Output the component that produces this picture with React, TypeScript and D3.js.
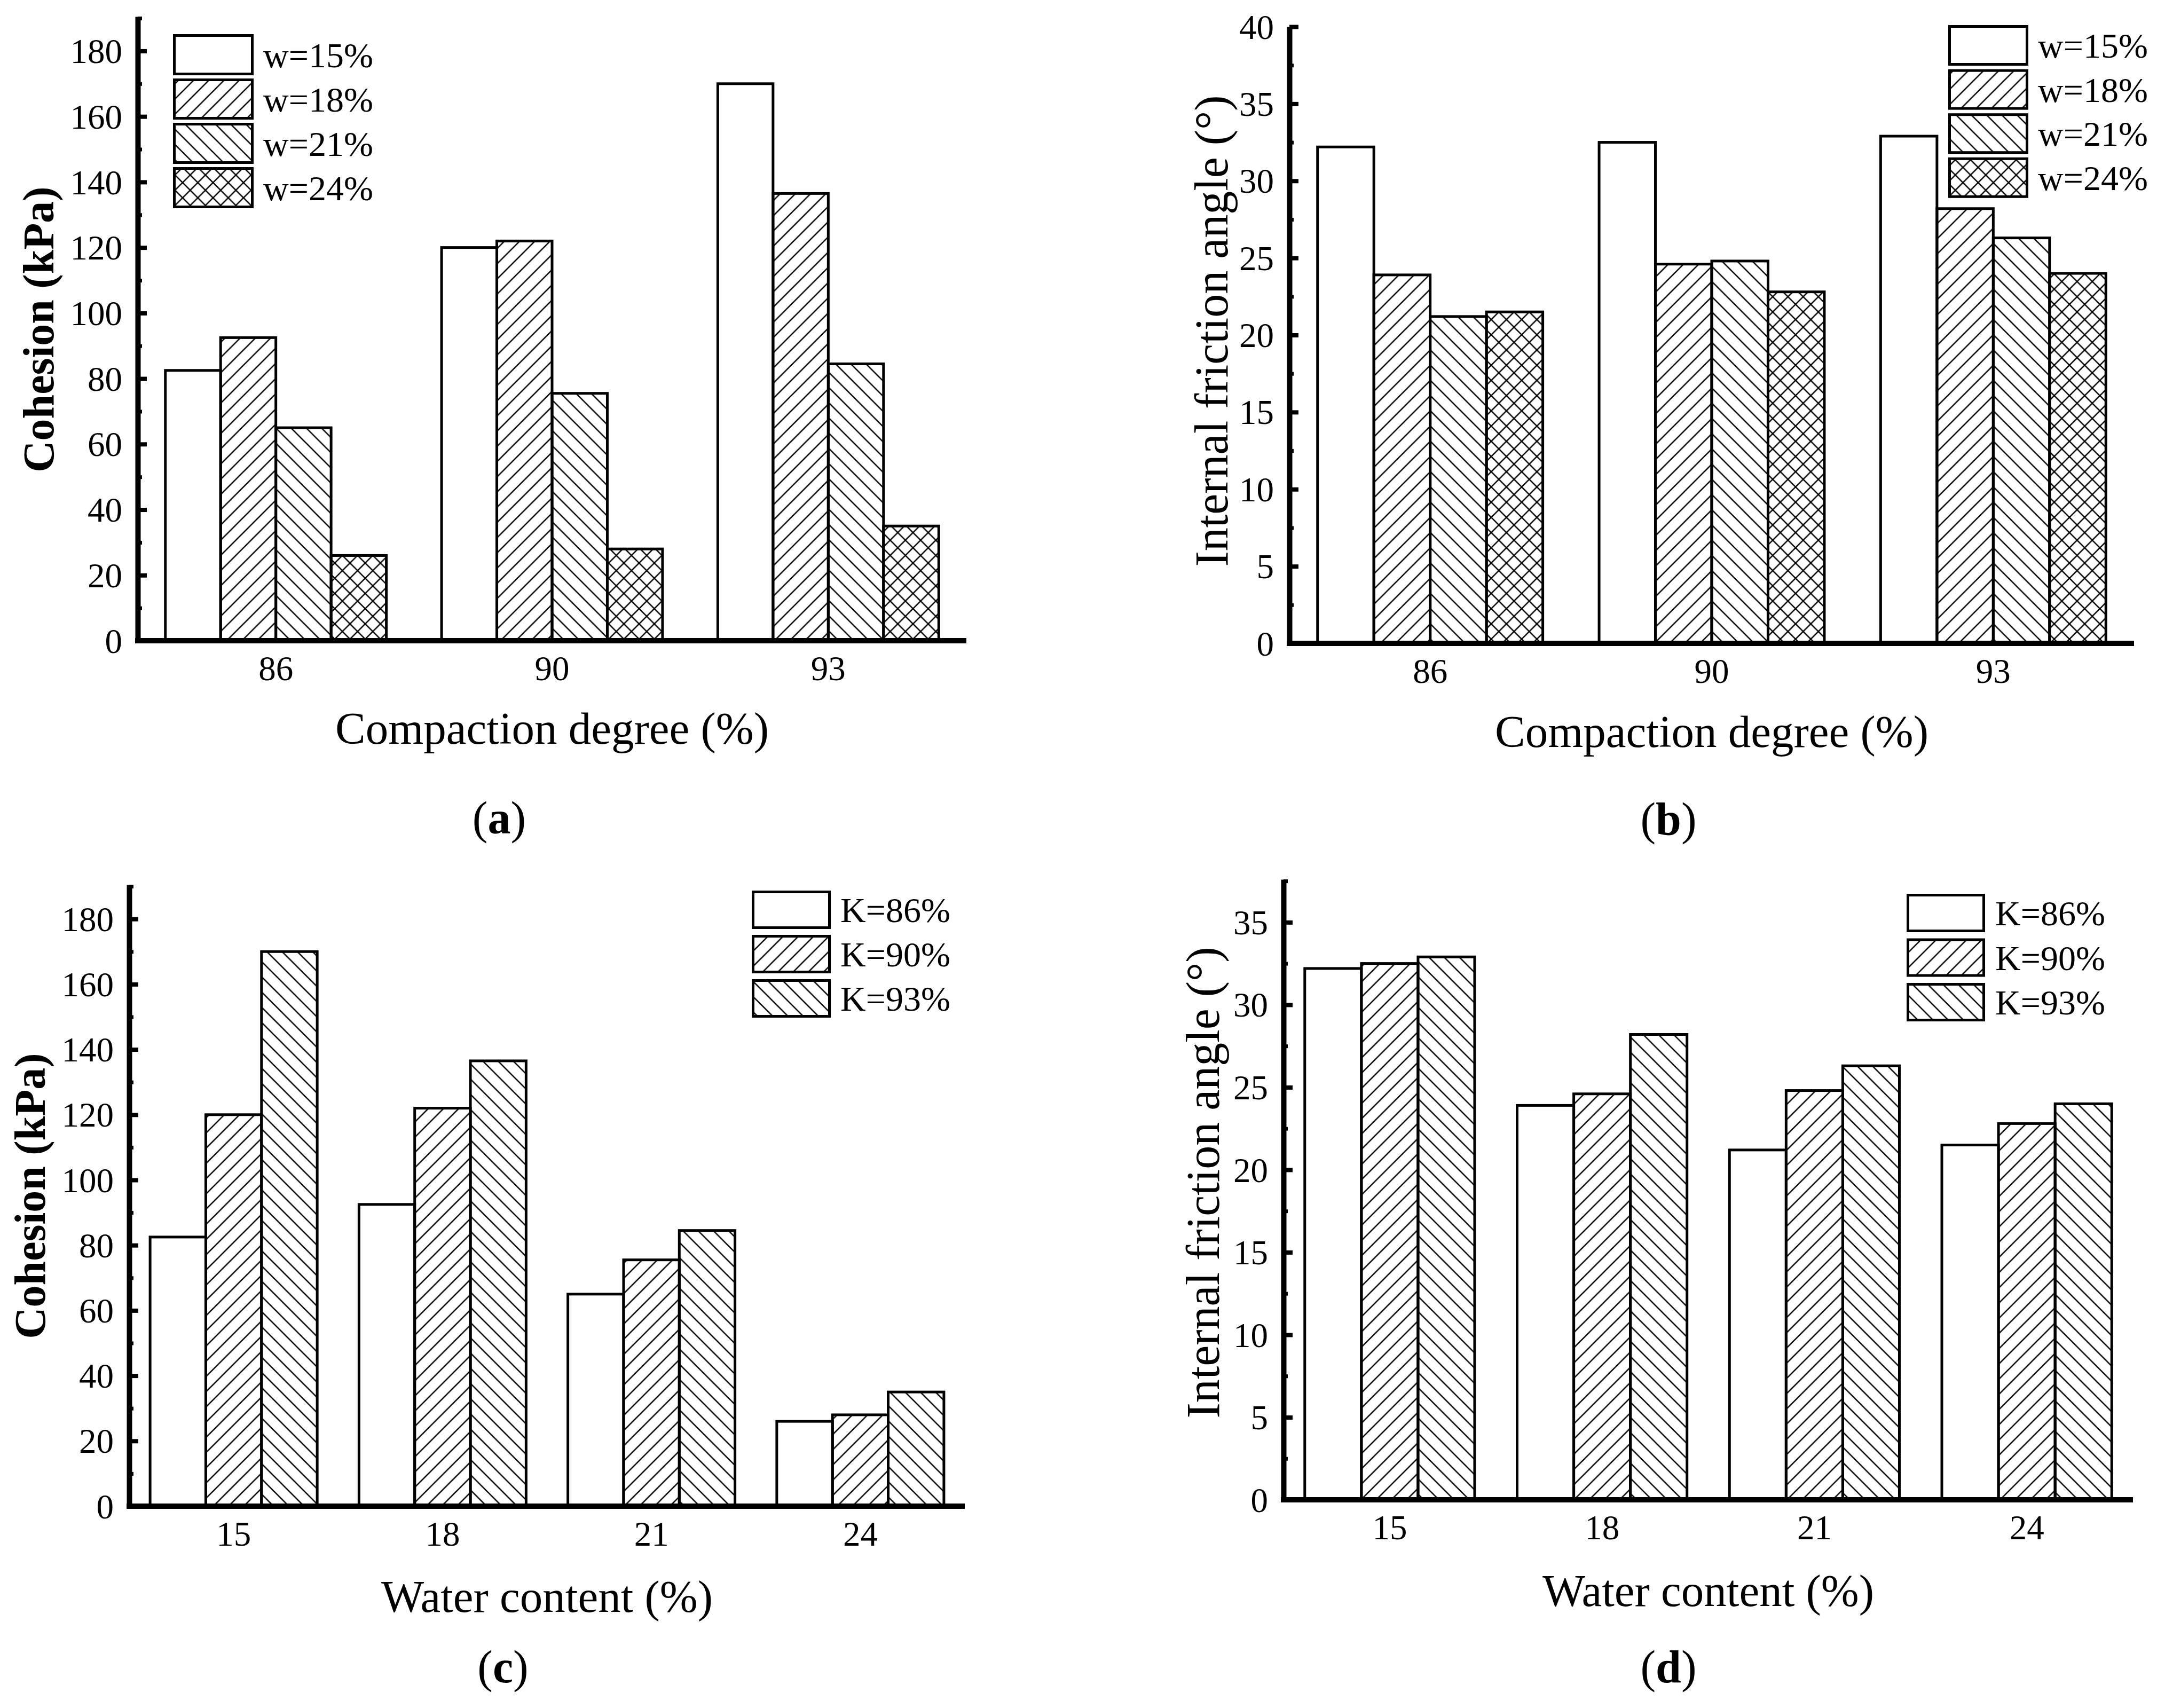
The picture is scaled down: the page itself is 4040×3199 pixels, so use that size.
import React, { useEffect, useRef } from 'react';
import * as d3 from 'd3';

// categories
const compactionDegrees = ['86', '90', '93'];
const waterContents = ['15', '18', '21', '24'];
const wLabels = ['w=15%', 'w=18%', 'w=21%', 'w=24%'];
const kLabels = ['K=86%', 'K=90%', 'K=93%'];

// cohesion (kPa) for each water content, indexed by compaction degree
const cohesionW15 = [82.5, 120, 170];
const cohesionW18 = [92.5, 122, 136.5];
const cohesionW21 = [65, 75.5, 84.5];
const cohesionW24 = [26, 28, 35];

// internal friction angle (deg) for each water content, indexed by compaction degree
const frictionW15 = [32.2, 32.5, 32.9];
const frictionW18 = [23.9, 24.6, 28.2];
const frictionW21 = [21.2, 24.8, 26.3];
const frictionW24 = [21.5, 22.8, 24.0];

// tick values
const cohesionTicks = [0, 20, 40, 60, 80, 100, 120, 140, 160, 180];
const cohesionMinorTicks = [10, 30, 50, 70, 90, 110, 130, 150, 170, 190];
const frictionTicksB = [0, 5, 10, 15, 20, 25, 30, 35, 40];
const frictionTicksD = [0, 5, 10, 15, 20, 25, 30, 35];
const frictionMinorTicks = [2.5, 7.5, 12.5, 17.5, 22.5, 27.5, 32.5, 37.5];

const FONT = '"Liberation Serif", "Times New Roman", serif';
const FILLS = ['#ffffff', 'url(#hatch-fwd)', 'url(#hatch-back)', 'url(#hatch-cross)'];

type Panel = {
  categories: string[];
  series: number[][];
  labels: string[];
  x0: number;
  x1: number;
  yZero: number;
  yTop: number;
  yMax: number;
  majorTicks: number[];
  minorTicks: number[];
  yTitle: string;
  yTitleBold: boolean;
  yTitleSize: number;
  yTitleX: number;
  yTitleY: number;
  xTitle: string;
  xTitleY: number;
  // legend box outer bounds (including stroke)
  legend: { x: number; y: number; w: number; h: number; step: number; textX: number };
  tag: string;
  tagX: number;
  tagY: number;
};

// transpose: series by water content -> series by compaction degree
const transpose = (rows: number[][]) => rows[0].map((_, j) => rows.map(r => r[j]));

const cohesionByW = [cohesionW15, cohesionW18, cohesionW21, cohesionW24];
const frictionByW = [frictionW15, frictionW18, frictionW21, frictionW24];

const panels: Panel[] = [
  {
    categories: compactionDegrees, series: cohesionByW, labels: wLabels,
    x0: 258, x1: 1810, yZero: 1200, yTop: 31, yMax: 190.5,
    majorTicks: cohesionTicks, minorTicks: cohesionMinorTicks,
    yTitle: 'Cohesion (kPa)', yTitleBold: true, yTitleSize: 82, yTitleX: 100, yTitleY: 617,
    xTitle: 'Compaction degree (%)', xTitleY: 1393,
    legend: { x: 324, y: 64, w: 151, h: 77, step: 83, textX: 493 },
    tag: 'a', tagX: 935, tagY: 1561,
  },
  {
    categories: compactionDegrees, series: frictionByW, labels: wLabels,
    x0: 2415, x1: 3997, yZero: 1205, yTop: 50, yMax: 40,
    majorTicks: frictionTicksB, minorTicks: frictionMinorTicks,
    yTitle: 'Internal friction angle (°)', yTitleBold: false, yTitleSize: 88, yTitleX: 2299, yTitleY: 620,
    xTitle: 'Compaction degree (%)', xTitleY: 1399,
    legend: { x: 3649, y: 47, w: 150, h: 76, step: 82.6, textX: 3817 },
    tag: 'b', tagX: 3125, tagY: 1563,
  },
  {
    categories: waterContents, series: transpose(cohesionByW), labels: kLabels,
    x0: 242, x1: 1807, yZero: 2821, yTop: 1657, yMax: 190.5,
    majorTicks: cohesionTicks, minorTicks: cohesionMinorTicks,
    yTitle: 'Cohesion (kPa)', yTitleBold: true, yTitleSize: 82, yTitleX: 84, yTitleY: 2240,
    xTitle: 'Water content (%)', xTitleY: 3019,
    legend: { x: 1408, y: 1668, w: 148, h: 72, step: 83, textX: 1574 },
    tag: 'c', tagX: 942, tagY: 3151,
  },
  {
    categories: waterContents, series: transpose(frictionByW), labels: kLabels,
    x0: 2404, x1: 3995, yZero: 2809, yTop: 1647, yMax: 37.6,
    majorTicks: frictionTicksD, minorTicks: frictionMinorTicks,
    yTitle: 'Internal friction angle (°)', yTitleBold: false, yTitleSize: 88, yTitleX: 2283, yTitleY: 2215,
    xTitle: 'Water content (%)', xTitleY: 3008,
    legend: { x: 3571, y: 1674, w: 147, h: 72, step: 83.5, textX: 3737 },
    tag: 'd', tagX: 3125, tagY: 3151,
  },
];

const BORDER = 5;

function drawPanel(root: d3.Selection<SVGGElement, unknown, null, undefined>, p: Panel) {
  const g = root.append('g');

  const x = d3.scaleBand<string>()
    .domain(p.categories)
    .range([p.x0, p.x1])
    .paddingInner(0.2)
    .paddingOuter(0.1);
  const xs = d3.scaleBand<string>()
    .domain(p.series.map((_, i) => String(i)))
    .range([0, x.bandwidth()]);
  const y = d3.scaleLinear().domain([0, p.yMax]).range([p.yZero, p.yTop]);

  // Bars
  p.series.forEach((vals, si) => {
    g.append('g')
      .selectAll('rect')
      .data(vals)
      .join('rect')
      .attr('x', (_, i) => (x(p.categories[i]) as number) + (xs(String(si)) as number))
      .attr('y', d => y(d))
      .attr('width', xs.bandwidth())
      .attr('height', d => y(0) - y(d))
      .attr('fill', FILLS[si])
      .attr('stroke', '#000')
      .attr('stroke-width', BORDER);
  });

  // Minor ticks (inward)
  const minorAxis = d3.axisLeft(y)
    .tickValues(p.minorTicks.filter(v => v <= p.yMax))
    .tickSizeInner(-8)
    .tickSizeOuter(0)
    .tickFormat(() => '');
  const gm = g.append('g').attr('transform', `translate(${p.x0},0)`).call(minorAxis);
  gm.select('.domain').remove();
  gm.selectAll('line').attr('stroke', '#000').attr('stroke-width', 7);

  // Major ticks + labels
  const majorAxis = d3.axisLeft(y)
    .tickValues(p.majorTicks)
    .tickSizeInner(-17)
    .tickSizeOuter(0)
    .tickPadding(29)
    .tickFormat(d3.format('d'));
  const ga = g.append('g').attr('transform', `translate(${p.x0},0)`).call(majorAxis);
  ga.attr('font-family', FONT).attr('font-size', 65);
  ga.select('.domain').attr('stroke', '#000').attr('stroke-width', 10);
  ga.selectAll('line').attr('stroke', '#000').attr('stroke-width', 8);
  ga.selectAll('text').attr('fill', '#000').attr('dy', '0.34em');

  // X axis line
  g.append('line')
    .attr('x1', p.x0 - 5).attr('x2', p.x1)
    .attr('y1', p.yZero).attr('y2', p.yZero)
    .attr('stroke', '#000').attr('stroke-width', 10);

  // X tick labels
  g.append('g')
    .selectAll('text')
    .data(p.categories)
    .join('text')
    .attr('x', d => (x(d) as number) + x.bandwidth() / 2)
    .attr('y', p.yZero + 74)
    .attr('text-anchor', 'middle')
    .attr('font-family', FONT)
    .attr('font-size', 65)
    .text(d => d);

  // Axis titles
  g.append('text')
    .attr('transform', `translate(${p.yTitleX},${p.yTitleY}) rotate(-90)`)
    .attr('text-anchor', 'middle')
    .attr('font-family', FONT)
    .attr('font-weight', p.yTitleBold ? 'bold' : 'normal')
    .attr('font-size', p.yTitleSize)
    .text(p.yTitle);

  g.append('text')
    .attr('x', (p.x0 + p.x1) / 2)
    .attr('y', p.xTitleY)
    .attr('text-anchor', 'middle')
    .attr('font-family', FONT)
    .attr('font-size', 85)
    .text(p.xTitle);

  // Legend
  const lg = g.append('g');
  p.labels.forEach((label, i) => {
    const top = p.legend.y + i * p.legend.step;
    lg.append('rect')
      .attr('x', p.legend.x + BORDER / 2)
      .attr('y', top + BORDER / 2)
      .attr('width', p.legend.w - BORDER)
      .attr('height', p.legend.h - BORDER)
      .attr('fill', FILLS[i])
      .attr('stroke', '#000')
      .attr('stroke-width', BORDER);
    lg.append('text')
      .attr('x', p.legend.textX)
      .attr('y', top + p.legend.h / 2)
      .attr('dy', '0.35em')
      .attr('font-family', FONT)
      .attr('font-size', 66)
      .text(label);
  });

  // Panel tag, e.g. (a)
  const t = g.append('text')
    .attr('x', p.tagX)
    .attr('y', p.tagY)
    .attr('text-anchor', 'middle')
    .attr('font-family', FONT)
    .attr('font-size', 86);
  t.append('tspan').text('(');
  t.append('tspan').attr('font-weight', 'bold').text(p.tag);
  t.append('tspan').text(')');
}

export default function App() {
  const svgRef = useRef<SVGSVGElement>(null);

  useEffect(() => {
    if (!svgRef.current) return;
    const svg = d3.select(svgRef.current);
    svg.selectAll('*').remove();

    const defs = svg.append('defs');
    const P = 28.5;
    const addPattern = (id: string, d: string) => {
      defs.append('pattern')
        .attr('id', id)
        .attr('patternUnits', 'userSpaceOnUse')
        .attr('width', P)
        .attr('height', P)
        .append('path')
        .attr('d', d)
        .attr('stroke', '#000')
        .attr('stroke-width', 2.5)
        .attr('fill', 'none');
    };
    const fwd = `M${-P / 4},${P / 4} L${P / 4},${-P / 4} M0,${P} L${P},0 M${(3 * P) / 4},${(5 * P) / 4} L${(5 * P) / 4},${(3 * P) / 4}`;
    const back = `M${-P / 4},${(3 * P) / 4} L${P / 4},${(5 * P) / 4} M0,0 L${P},${P} M${(3 * P) / 4},${-P / 4} L${(5 * P) / 4},${P / 4}`;
    addPattern('hatch-fwd', fwd);
    addPattern('hatch-back', back);
    addPattern('hatch-cross', `${fwd} ${back}`);

    const root = svg.append('g');
    panels.forEach(p => drawPanel(root, p));
  }, []);

  return (
    <svg
      ref={svgRef}
      width={4040}
      height={3199}
      viewBox="0 0 4040 3199"
      style={{ position: 'absolute', left: 0, top: 0, background: '#fff' }}
    />
  );
}
